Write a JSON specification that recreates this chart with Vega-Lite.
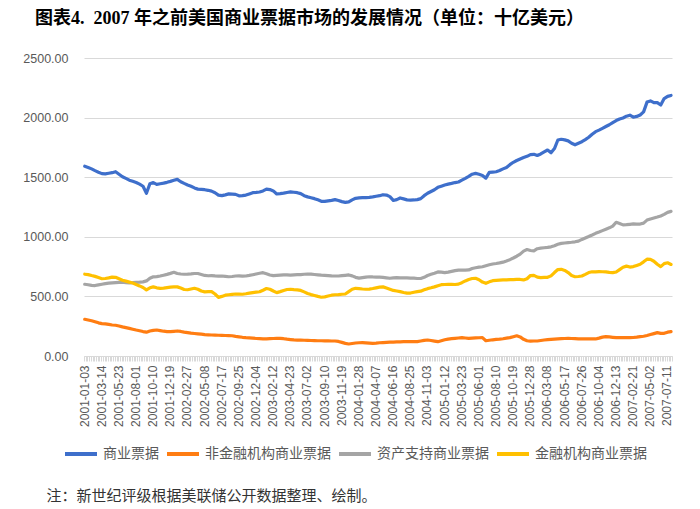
{
"$schema": "https://vega.github.io/schema/vega-lite/v6.json",
"width": 588, "height": 298,
"autosize": {"type": "none"},
"padding": {"left": 84, "top": 58, "right": 28, "bottom": 153},
"background": "white",
"title": {"text": "图表4.\u00a0\u00a02007\u00a0年之前美国商业票据市场的发展情况（单位：十亿美元）", "anchor": "start", "frame": "group", "dx": -49, "offset": 24, "fontSize": 18, "fontWeight": "bold", "font": "Liberation Serif, Noto Sans CJK SC", "color": "#000000"},
"data": {"values": [
{"d":"2001-01-03","商业票据":1592,"非金融机构商业票据":308,"资产支持商业票据":602,"金融机构商业票据":686},
{"d":"2001-01-17","商业票据":1582,"非金融机构商业票据":302,"资产支持商业票据":598,"金融机构商业票据":683},
{"d":"2001-01-31","商业票据":1570,"非金融机构商业票据":296,"资产支持商业票据":592,"金融机构商业票据":675},
{"d":"2001-02-14","商业票据":1555,"非金融机构商业票据":288,"资产支持商业票据":591,"金融机构商业票据":668},
{"d":"2001-02-28","商业票据":1542,"非金融机构商业票据":278,"资产支持商业票据":597,"金融机构商业票据":658},
{"d":"2001-03-14","商业票据":1530,"非金融机构商业票据":272,"资产支持商业票据":602,"金融机构商业票据":648},
{"d":"2001-03-28","商业票据":1528,"非金融机构商业票据":270,"资产支持商业票据":607,"金融机构商业票据":650},
{"d":"2001-04-11","商业票据":1533,"非金融机构商业票据":265,"资产支持商业票据":611,"金融机构商业票据":655},
{"d":"2001-04-25","商业票据":1538,"非金融机构商业票据":260,"资产支持商业票据":614,"金融机构商业票据":662},
{"d":"2001-05-09","商业票据":1546,"非金融机构商业票据":258,"资产支持商业票据":616,"金融机构商业票据":660},
{"d":"2001-05-23","商业票据":1525,"非金融机构商业票据":252,"资产支持商业票据":618,"金融机构商业票据":648},
{"d":"2001-06-06","商业票据":1504,"非金融机构商业票据":244,"资产支持商业票据":619,"金融机构商业票据":636},
{"d":"2001-06-20","商业票据":1490,"非金融机构商业票据":238,"资产支持商业票据":616,"金融机构商业票据":628},
{"d":"2001-07-04","商业票据":1475,"非金融机构商业票据":232,"资产支持商业票据":614,"金融机构商业票据":620},
{"d":"2001-07-18","商业票据":1466,"非金融机构商业票据":225,"资产支持商业票据":615,"金融机构商业票据":612},
{"d":"2001-08-01","商业票据":1456,"非金融机构商业票据":218,"资产支持商业票据":617,"金融机构商业票据":600},
{"d":"2001-08-15","商业票据":1442,"非金融机构商业票据":212,"资产支持商业票据":619,"金融机构商业票据":588},
{"d":"2001-08-29","商业票据":1424,"非金融机构商业票据":205,"资产支持商业票据":622,"金融机构商业票据":575},
{"d":"2001-09-12","商业票据":1365,"非金融机构商业票据":200,"资产支持商业票据":630,"金融机构商业票据":555},
{"d":"2001-09-26","商业票据":1445,"非金融机构商业票据":210,"资产支持商业票据":652,"金融机构商业票据":572},
{"d":"2001-10-10","商业票据":1455,"非金融机构商业票据":215,"资产支持商业票据":664,"金融机构商业票据":580},
{"d":"2001-10-24","商业票据":1440,"非金融机构商业票据":218,"资产支持商业票据":666,"金融机构商业票据":572},
{"d":"2001-11-07","商业票据":1445,"非金融机构商业票据":213,"资产支持商业票据":671,"金融机构商业票据":568},
{"d":"2001-11-21","商业票据":1450,"非金融机构商业票据":208,"资产支持商业票据":678,"金融机构商业票据":570},
{"d":"2001-12-05","商业票据":1457,"非金融机构商业票据":205,"资产支持商业票据":685,"金融机构商业票据":574},
{"d":"2001-12-19","商业票据":1465,"非金融机构商业票据":204,"资产支持商业票据":693,"金融机构商业票据":578},
{"d":"2002-01-02","商业票据":1474,"非金融机构商业票据":207,"资产支持商业票据":702,"金融机构商业票据":580},
{"d":"2002-01-16","商业票据":1482,"非金融机构商业票据":210,"资产支持商业票据":692,"金融机构商业票据":580},
{"d":"2002-01-30","商业票据":1462,"非金融机构商业票据":206,"资产支持商业票据":688,"金融机构商业票据":570},
{"d":"2002-02-13","商业票据":1448,"非金融机构商业票据":200,"资产支持商业票据":686,"金融机构商业票据":558},
{"d":"2002-02-27","商业票据":1435,"非金融机构商业票据":196,"资产支持商业票据":687,"金融机构商业票据":556},
{"d":"2002-03-13","商业票据":1424,"非金融机构商业票据":192,"资产支持商业票据":689,"金融机构商业票据":562},
{"d":"2002-03-27","商业票据":1410,"非金融机构商业票据":189,"资产支持商业票据":692,"金融机构商业票据":568},
{"d":"2002-04-10","商业票据":1400,"非金融机构商业票据":186,"资产支持商业票据":692,"金融机构商业票据":560},
{"d":"2002-04-24","商业票据":1398,"非金融机构商业票据":183,"资产支持商业票据":684,"金融机构商业票据":545},
{"d":"2002-05-08","商业票据":1395,"非金融机构商业票据":180,"资产支持商业票据":676,"金融机构商业票据":538},
{"d":"2002-05-22","商业票据":1390,"非金融机构商业票据":178,"资产支持商业票据":673,"金融机构商业票据":540},
{"d":"2002-06-05","商业票据":1383,"非金融机构商业票据":176,"资产支持商业票据":675,"金融机构商业票据":540},
{"d":"2002-06-19","商业票据":1370,"非金融机构商业票据":175,"资产支持商业票据":672,"金融机构商业票据":520},
{"d":"2002-07-03","商业票据":1350,"非金融机构商业票据":174,"资产支持商业票据":670,"金融机构商业票据":492},
{"d":"2002-07-17","商业票据":1345,"非金融机构商业票据":173,"资产支持商业票据":671,"金融机构商业票据":500},
{"d":"2002-07-31","商业票据":1352,"非金融机构商业票据":172,"资产支持商业票据":668,"金融机构商业票据":510},
{"d":"2002-08-14","商业票据":1360,"非金融机构商业票据":171,"资产支持商业票据":665,"金融机构商业票据":514},
{"d":"2002-08-28","商业票据":1358,"非金融机构商业票据":170,"资产支持商业票据":667,"金融机构商业票据":517},
{"d":"2002-09-11","商业票据":1356,"非金融机构商业票据":165,"资产支持商业票据":671,"金融机构商业票据":520},
{"d":"2002-09-25","商业票据":1344,"非金融机构商业票据":161,"资产支持商业票据":672,"金融机构商业票据":519},
{"d":"2002-10-09","商业票据":1345,"非金融机构商业票据":157,"资产支持商业票据":670,"金融机构商业票据":518},
{"d":"2002-10-23","商业票据":1350,"非金融机构商业票据":154,"资产支持商业票据":671,"金融机构商业票据":522},
{"d":"2002-11-06","商业票据":1360,"非金融机构商业票据":152,"资产支持商业票据":676,"金融机构商业票据":527},
{"d":"2002-11-20","商业票据":1370,"非金融机构商业票据":150,"资产支持商业票据":682,"金融机构商业票据":532},
{"d":"2002-12-04","商业票据":1372,"非金融机构商业票据":147,"资产支持商业票据":688,"金融机构商业票据":536},
{"d":"2002-12-18","商业票据":1376,"非金融机构商业票据":145,"资产支持商业票据":694,"金融机构商业票据":539},
{"d":"2003-01-01","商业票据":1385,"非金融机构商业票据":143,"资产支持商业票据":699,"金融机构商业票据":552},
{"d":"2003-01-15","商业票据":1400,"非金融机构商业票据":144,"资产支持商业票据":690,"金融机构商业票据":566},
{"d":"2003-01-29","商业票据":1396,"非金融机构商业票据":146,"资产支持商业票据":680,"金融机构商业票据":560},
{"d":"2003-02-12","商业票据":1385,"非金融机构商业票据":147,"资产支持商业票据":674,"金融机构商业票据":545},
{"d":"2003-02-26","商业票据":1359,"非金融机构商业票据":148,"资产支持商业票据":676,"金融机构商业票据":532},
{"d":"2003-03-12","商业票据":1362,"非金融机构商业票据":148,"资产支持商业票据":678,"金融机构商业票据":540},
{"d":"2003-03-26","商业票据":1366,"非金融机构商业票据":145,"资产支持商业票据":680,"金融机构商业票据":550},
{"d":"2003-04-09","商业票据":1372,"非金融机构商业票据":141,"资产支持商业票据":680,"金融机构商业票据":558},
{"d":"2003-04-23","商业票据":1377,"非金融机构商业票据":138,"资产支持商业票据":678,"金融机构商业票据":560},
{"d":"2003-05-07","商业票据":1374,"非金融机构商业票据":135,"资产支持商业票据":681,"金融机构商业票据":557},
{"d":"2003-05-21","商业票据":1370,"非金融机构商业票据":134,"资产支持商业票据":682,"金融机构商业票据":555},
{"d":"2003-06-04","商业票据":1362,"非金融机构商业票据":133,"资产支持商业票据":683,"金融机构商业票据":550},
{"d":"2003-06-18","商业票据":1345,"非金融机构商业票据":132,"资产支持商业票据":686,"金融机构商业票据":538},
{"d":"2003-07-02","商业票据":1335,"非金融机构商业票据":131,"资产支持商业票据":688,"金融机构商业票据":525},
{"d":"2003-07-16","商业票据":1328,"非金融机构商业票据":130,"资产支持商业票据":687,"金融机构商业票据":515},
{"d":"2003-07-30","商业票据":1320,"非金融机构商业票据":129,"资产支持商业票据":684,"金融机构商业票据":508},
{"d":"2003-08-13","商业票据":1310,"非金融机构商业票据":128,"资产支持商业票据":681,"金融机构商业票据":500},
{"d":"2003-08-27","商业票据":1298,"非金融机构商业票据":128,"资产支持商业票据":678,"金融机构商业票据":493},
{"d":"2003-09-10","商业票据":1297,"非金融机构商业票据":127,"资产支持商业票据":676,"金融机构商业票据":496},
{"d":"2003-09-24","商业票据":1302,"非金融机构商业票据":127,"资产支持商业票据":674,"金融机构商业票据":503},
{"d":"2003-10-08","商业票据":1306,"非金融机构商业票据":126,"资产支持商业票据":672,"金融机构商业票据":510},
{"d":"2003-10-22","商业票据":1312,"非金融机构商业票据":126,"资产支持商业票据":671,"金融机构商业票据":514},
{"d":"2003-11-05","商业票据":1305,"非金融机构商业票据":122,"资产支持商业票据":671,"金融机构商业票据":515},
{"d":"2003-11-19","商业票据":1295,"非金融机构商业票据":114,"资产支持商业票据":674,"金融机构商业票据":518},
{"d":"2003-12-03","商业票据":1289,"非金融机构商业票据":106,"资产支持商业票据":677,"金融机构商业票据":520},
{"d":"2003-12-17","商业票据":1293,"非金融机构商业票据":101,"资产支持商业票据":680,"金融机构商业票据":540},
{"d":"2003-12-31","商业票据":1310,"非金融机构商业票据":105,"资产支持商业票据":672,"金融机构商业票据":560},
{"d":"2004-01-14","商业票据":1323,"非金融机构商业票据":109,"资产支持商业票据":660,"金融机构商业票据":568},
{"d":"2004-01-28","商业票据":1326,"非金融机构商业票据":111,"资产支持商业票据":653,"金融机构商业票据":565},
{"d":"2004-02-11","商业票据":1328,"非金融机构商业票据":112,"资产支持商业票据":658,"金融机构商业票据":562},
{"d":"2004-02-25","商业票据":1329,"非金融机构商业票据":110,"资产支持商业票据":662,"金融机构商业票据":560},
{"d":"2004-03-10","商业票据":1331,"非金融机构商业票据":108,"资产支持商业票据":665,"金融机构商业票据":561},
{"d":"2004-03-24","商业票据":1335,"非金融机构商业票据":106,"资产支持商业票据":663,"金融机构商业票据":566},
{"d":"2004-04-07","商业票据":1340,"非金融机构商业票据":108,"资产支持商业票据":662,"金融机构商业票据":572},
{"d":"2004-04-21","商业票据":1345,"非金融机构商业票据":111,"资产支持商业票据":661,"金融机构商业票据":578},
{"d":"2004-05-05","商业票据":1353,"非金融机构商业票据":113,"资产支持商业票据":660,"金融机构商业票据":580},
{"d":"2004-05-19","商业票据":1350,"非金融机构商业票据":115,"资产支持商业票据":656,"金融机构商业票据":570},
{"d":"2004-06-02","商业票据":1337,"非金融机构商业票据":116,"资产支持商业票据":652,"金融机构商业票据":560},
{"d":"2004-06-16","商业票据":1305,"非金融机构商业票据":117,"资产支持商业票据":655,"金融机构商业票据":550},
{"d":"2004-06-30","商业票据":1312,"非金融机构商业票据":118,"资产支持商业票据":657,"金融机构商业票据":545},
{"d":"2004-07-14","商业票据":1326,"非金融机构商业票据":119,"资产支持商业票据":656,"金融机构商业票据":540},
{"d":"2004-07-28","商业票据":1318,"非金融机构商业票据":120,"资产支持商业票据":655,"金融机构商业票据":533},
{"d":"2004-08-11","商业票据":1310,"非金融机构商业票据":120,"资产支持商业票据":655,"金融机构商业票据":527},
{"d":"2004-08-25","商业票据":1308,"非金融机构商业票据":120,"资产支持商业票据":654,"金融机构商业票据":528},
{"d":"2004-09-08","商业票据":1309,"非金融机构商业票据":120,"资产支持商业票据":653,"金融机构商业票据":535},
{"d":"2004-09-22","商业票据":1312,"非金融机构商业票据":121,"资产支持商业票据":650,"金融机构商业票据":540},
{"d":"2004-10-06","商业票据":1320,"非金融机构商业票据":126,"资产支持商业票据":650,"金融机构商业票据":544},
{"d":"2004-10-20","商业票据":1345,"非金融机构商业票据":131,"资产支持商业票据":660,"金融机构商业票据":555},
{"d":"2004-11-03","商业票据":1365,"非金融机构商业票据":134,"资产支持商业票据":675,"金融机构商业票据":565},
{"d":"2004-11-17","商业票据":1380,"非金融机构商业票据":130,"资产支持商业票据":685,"金融机构商业票据":572},
{"d":"2004-12-01","商业票据":1395,"非金融机构商业票据":125,"资产支持商业票据":694,"金融机构商业票据":580},
{"d":"2004-12-15","商业票据":1415,"非金融机构商业票据":120,"资产支持商业票据":705,"金融机构商业票据":590},
{"d":"2004-12-29","商业票据":1425,"非金融机构商业票据":128,"资产支持商业票据":703,"金融机构商业票据":598},
{"d":"2005-01-12","商业票据":1435,"非金融机构商业票据":136,"资产支持商业票据":700,"金融机构商业票据":600},
{"d":"2005-01-26","商业票据":1442,"非金融机构商业票据":142,"资产支持商业票据":704,"金融机构商业票据":601},
{"d":"2005-02-09","商业票据":1448,"非金融机构商业票据":145,"资产支持商业票据":710,"金融机构商业票据":602},
{"d":"2005-02-23","商业票据":1455,"非金融机构商业票据":148,"资产支持商业票据":716,"金融机构商业票据":600},
{"d":"2005-03-09","商业票据":1460,"非金融机构商业票据":151,"资产支持商业票据":721,"金融机构商业票据":603},
{"d":"2005-03-23","商业票据":1475,"非金融机构商业票据":154,"资产支持商业票据":721,"金融机构商业票据":615},
{"d":"2005-04-06","商业票据":1490,"非金融机构商业票据":151,"资产支持商业票据":720,"金融机构商业票据":630},
{"d":"2005-04-20","商业票据":1507,"非金融机构商业票据":148,"资产支持商业票据":722,"金融机构商业票据":642},
{"d":"2005-05-04","商业票据":1525,"非金融机构商业票据":150,"资产支持商业票据":734,"金融机构商业票据":650},
{"d":"2005-05-18","商业票据":1532,"非金融机构商业票据":152,"资产支持商业票据":740,"金融机构商业票据":652},
{"d":"2005-06-01","商业票据":1525,"非金融机构商业票据":153,"资产支持商业票据":745,"金融机构商业票据":640},
{"d":"2005-06-15","商业票据":1515,"非金融机构商业票据":154,"资产支持商业票据":749,"金融机构商业票据":620},
{"d":"2005-06-29","商业票据":1492,"非金融机构商业票据":128,"资产支持商业票据":757,"金融机构商业票据":610},
{"d":"2005-07-13","商业票据":1540,"非金融机构商业票据":132,"资产支持商业票据":765,"金融机构商业票据":622},
{"d":"2005-07-27","商业票据":1543,"非金融机构商业票据":136,"资产支持商业票据":772,"金融机构商业票据":632},
{"d":"2005-08-10","商业票据":1546,"非金融机构商业票据":139,"资产支持商业票据":776,"金融机构商业票据":634},
{"d":"2005-08-24","商业票据":1556,"非金融机构商业票据":141,"资产支持商业票据":781,"金融机构商业票据":636},
{"d":"2005-09-07","商业票据":1570,"非金融机构商业票据":145,"资产支持商业票据":787,"金融机构商业票据":638},
{"d":"2005-09-21","商业票据":1582,"非金融机构商业票据":150,"资产支持商业票据":797,"金融机构商业票据":638},
{"d":"2005-10-05","商业票据":1605,"非金融机构商业票据":154,"资产支持商业票据":808,"金融机构商业票据":640},
{"d":"2005-10-19","商业票据":1625,"非金融机构商业票据":162,"资产支持商业票据":822,"金融机构商业票据":641},
{"d":"2005-11-02","商业票据":1640,"非金融机构商业票据":170,"资产支持商业票据":837,"金融机构商业票据":643},
{"d":"2005-11-16","商业票据":1653,"非金融机构商业票据":160,"资产支持商业票据":855,"金融机构商业票据":642},
{"d":"2005-11-30","商业票据":1665,"非金融机构商业票据":140,"资产支持商业票据":880,"金融机构商业票据":638},
{"d":"2005-12-14","商业票据":1675,"非金融机构商业票据":128,"资产支持商业票据":893,"金融机构商业票据":648},
{"d":"2005-12-28","商业票据":1690,"非金融机构商业票据":125,"资产支持商业票据":885,"金融机构商业票据":675},
{"d":"2006-01-11","商业票据":1692,"非金融机构商业票据":126,"资产支持商业票据":882,"金融机构商业票据":676},
{"d":"2006-01-25","商业票据":1682,"非金融机构商业票据":126,"资产支持商业票据":900,"金融机构商业票据":662},
{"d":"2006-02-08","商业票据":1695,"非金融机构商业票据":130,"资产支持商业票据":905,"金融机构商业票据":658},
{"d":"2006-02-22","商业票据":1712,"非金融机构商业票据":134,"资产支持商业票据":908,"金融机构商业票据":660},
{"d":"2006-03-08","商业票据":1728,"非金融机构商业票据":137,"资产支持商业票据":911,"金融机构商业票据":660},
{"d":"2006-03-22","商业票据":1705,"非金融机构商业票据":140,"资产支持商业票据":916,"金融机构商业票据":672},
{"d":"2006-04-05","商业票据":1740,"非金融机构商业票据":142,"资产支持商业票据":925,"金融机构商业票据":700},
{"d":"2006-04-19","商业票据":1812,"非金融机构商业票据":144,"资产支持商业票据":937,"金融机构商业票据":725},
{"d":"2006-05-03","商业票据":1818,"非金融机构商业票据":146,"资产支持商业票据":945,"金融机构商业票据":727},
{"d":"2006-05-17","商业票据":1813,"非金融机构商业票据":147,"资产支持商业票据":948,"金融机构商业票据":718},
{"d":"2006-05-31","商业票据":1805,"非金融机构商业票据":148,"资产支持商业票据":951,"金融机构商业票据":700},
{"d":"2006-06-14","商业票据":1785,"非金融机构商业票据":147,"资产支持商业票据":954,"金融机构商业票据":675},
{"d":"2006-06-28","商业票据":1772,"非金融机构商业票据":145,"资产支持商业票据":958,"金融机构商业票据":665},
{"d":"2006-07-12","商业票据":1785,"非金融机构商业票据":143,"资产支持商业票据":964,"金融机构商业票据":667},
{"d":"2006-07-26","商业票据":1798,"非金融机构商业票据":143,"资产支持商业票据":978,"金融机构商业票据":671},
{"d":"2006-08-09","商业票据":1815,"非金融机构商业票据":143,"资产支持商业票据":990,"金融机构商业票据":685},
{"d":"2006-08-23","商业票据":1835,"非金融机构商业票据":143,"资产支持商业票据":1002,"金融机构商业票据":700},
{"d":"2006-09-06","商业票据":1860,"非金融机构商业票据":143,"资产支持商业票据":1015,"金融机构商业票据":707},
{"d":"2006-09-20","商业票据":1882,"非金融机构商业票据":143,"资产支持商业票据":1029,"金融机构商业票据":706},
{"d":"2006-10-04","商业票据":1895,"非金融机构商业票据":150,"资产支持商业票据":1040,"金融机构商业票据":708},
{"d":"2006-10-18","商业票据":1910,"非金融机构商业票据":158,"资产支持商业票据":1052,"金融机构商业票据":707},
{"d":"2006-11-01","商业票据":1925,"非金融机构商业票据":162,"资产支持商业票据":1064,"金融机构商业票据":706},
{"d":"2006-11-15","商业票据":1940,"非金融机构商业票据":160,"资产支持商业票据":1075,"金融机构商业票据":702},
{"d":"2006-11-29","商业票据":1958,"非金融机构商业票据":157,"资产支持商业票据":1090,"金融机构商业票据":699},
{"d":"2006-12-13","商业票据":1975,"非金融机构商业票据":154,"资产支持商业票据":1122,"金融机构商业票据":705},
{"d":"2006-12-27","商业票据":1988,"非金融机构商业票据":154,"资产支持商业票据":1112,"金融机构商业票据":725},
{"d":"2007-01-10","商业票据":1997,"非金融机构商业票据":154,"资产支持商业票据":1100,"金融机构商业票据":745},
{"d":"2007-01-24","商业票据":2012,"非金融机构商业票据":154,"资产支持商业票据":1102,"金融机构商业票据":754},
{"d":"2007-02-07","商业票据":2020,"非金融机构商业票据":154,"资产支持商业票据":1105,"金融机构商业票据":746},
{"d":"2007-02-21","商业票据":2003,"非金融机构商业票据":155,"资产支持商业票据":1108,"金融机构商业票据":750},
{"d":"2007-03-07","商业票据":2010,"非金融机构商业票据":158,"资产支持商业票据":1106,"金融机构商业票据":760},
{"d":"2007-03-21","商业票据":2022,"非金融机构商业票据":162,"资产支持商业票据":1107,"金融机构商业票据":770},
{"d":"2007-04-04","商业票据":2048,"非金融机构商业票据":166,"资产支持商业票据":1115,"金融机构商业票据":790},
{"d":"2007-04-18","商业票据":2130,"非金融机构商业票据":172,"资产支持商业票据":1140,"金融机构商业票据":812},
{"d":"2007-05-02","商业票据":2140,"非金融机构商业票据":180,"资产支持商业票据":1150,"金融机构商业票据":810},
{"d":"2007-05-16","商业票据":2125,"非金融机构商业票据":188,"资产支持商业票据":1158,"金融机构商业票据":795},
{"d":"2007-05-30","商业票据":2126,"非金融机构商业票据":196,"资产支持商业票据":1166,"金融机构商业票据":770},
{"d":"2007-06-13","商业票据":2106,"非金融机构商业票据":190,"资产支持商业票据":1175,"金融机构商业票据":750},
{"d":"2007-06-27","商业票据":2160,"非金融机构商业票据":190,"资产支持商业票据":1188,"金融机构商业票据":775},
{"d":"2007-07-11","商业票据":2178,"非金融机构商业票据":200,"资产支持商业票据":1205,"金融机构商业票据":782},
{"d":"2007-07-25","商业票据":2186,"非金融机构商业票据":205,"资产支持商业票据":1213,"金融机构商业票据":768}
]},
"transform": [{"fold": ["商业票据","非金融机构商业票据","资产支持商业票据","金融机构商业票据"], "as": ["series","value"]}],
"mark": {"type": "line", "strokeWidth": 3.2, "strokeCap": "round", "strokeJoin": "round"},
"encoding": {
  "x": {"field": "d", "type": "temporal",
    "scale": {"type": "utc", "nice": false, "domain": [{"year": 2000, "month": 12, "date": 31, "utc": true}, {"year": 2007, "month": 7, "date": 29, "utc": true}]},
    "axis": {"tickCount": {"interval": "week", "step": 1},
      "labelExpr": "round((time(datum.value) - 978220800000) / 604800000) % 10 == 0 ? utcFormat(time(datum.value) + 259200000, '%Y-%m-%d') : ''",
      "labelAngle": -90, "labelOverlap": false, "labelFlush": false, "labelFontSize": 12, "labelFont": "Liberation Sans", "labelColor": "#595959", "labelPadding": 4,
      "tickColor": "#d9d9d9", "tickSize": 5, "tickWidth": 1, "domainColor": "#d9d9d9", "grid": false,
      "title": "注：新世纪评级根据美联储公开数据整理、绘制。", "titleX": -38, "titleY": 139, "titleAlign": "left", "titleBaseline": "middle", "titleAngle": 0,
      "titleFont": "Noto Sans CJK SC", "titleFontSize": 15, "titleFontWeight": "normal", "titleColor": "#333333"}},
  "y": {"field": "value", "type": "quantitative",
    "scale": {"domain": [0, 2500], "nice": false},
    "axis": {"values": [0, 500, 1000, 1500, 2000, 2500], "format": ".2f", "domain": false, "ticks": false, "labelPadding": 16, "labelFontSize": 12.5, "labelFont": "Liberation Sans", "labelColor": "#595959", "gridColor": "#d9d9d9", "gridWidth": 1, "title": null}},
  "color": {"field": "series", "type": "nominal",
    "scale": {"domain": ["商业票据","非金融机构商业票据","资产支持商业票据","金融机构商业票据"], "range": ["#3E6FCB","#FF7D12","#A5A5A5","#FFC000"]},
    "legend": {"orient": "none", "legendX": -21, "legendY": 378, "direction": "horizontal", "title": null, "symbolType": "stroke", "symbolSize": 1024, "symbolStrokeWidth": 4, "labelFontSize": 14, "labelFont": "Noto Sans CJK SC", "labelColor": "#595959", "columnPadding": 0, "labelOffset": 4}}
},
"config": {"view": {"stroke": null}}
}
